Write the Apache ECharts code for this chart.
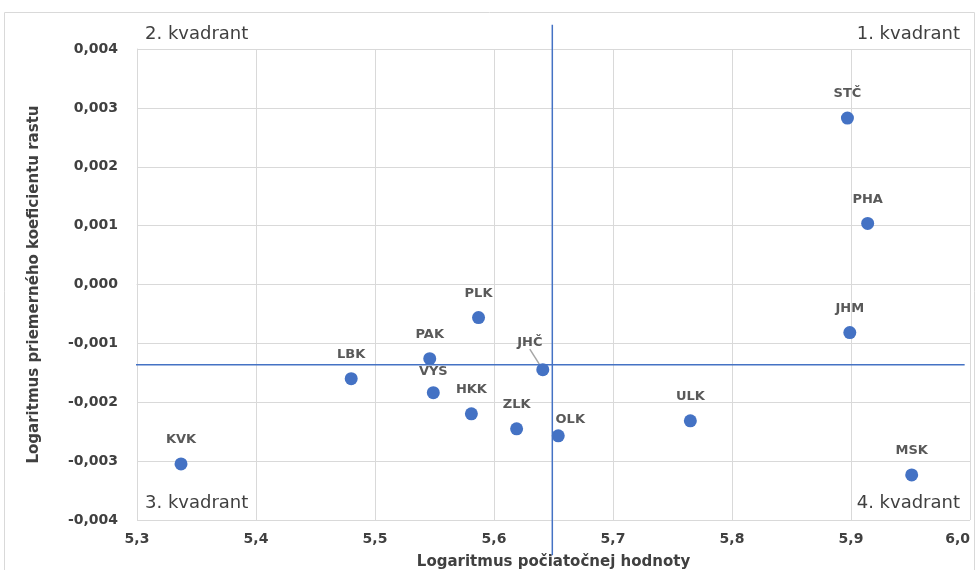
<!DOCTYPE html>
<html>
<head>
<meta charset="utf-8">
<script src="https://cdn.jsdelivr.net/npm/echarts@6/dist/echarts.min.js"></script>
<style>html,body{margin:0;padding:0;background:#fff}#c{width:977px;height:570px}</style>
</head>
<body>
<div id="c"></div>
<script>
const regions = ['STČ','PHA','JHM','MSK','ULK','OLK','ZLK','JHČ','PLK','PAK','VYS','HKK','LBK','KVK'];
const xValues = [5.897, 5.914, 5.899, 5.951, 5.765, 5.654, 5.619, 5.641, 5.587, 5.546, 5.549, 5.581, 5.480, 5.337];
const yValues = [0.002826, 0.001038, -0.000817, -0.003234, -0.002315, -0.00257, -0.002451, -0.001447, -0.000562, -0.00126, -0.001838, -0.002196, -0.0016, -0.003047];
const meanX = 5.649;
const meanY = -0.001362;
const xLineExtent = [5.258, 5.9955];
const yLineExtent = [0.00441, -0.0046];
const quadrantNames = ['1. kvadrant','2. kvadrant','3. kvadrant','4. kvadrant'];
const xAxisName = 'Logaritmus počiatočnej hodnoty';
const yAxisName = 'Logaritmus priemerného koeficientu rastu';

const FONT = 'DejaVu Sans';
const blue = '#4472C4';
const labelColor = '#595959';
const axisColor = '#404040';

const labelTweaks = { 'JHČ': {dx: -13, dy: -3, line: true}, 'OLK': {dx: 12, dy: 8}, 'VYS': {dx: 0, dy: 3} };

const points = regions.map((r, i) => ({
  name: r,
  value: [xValues[i], yValues[i]],
  labelLine: { show: !!(labelTweaks[r] && labelTweaks[r].line) }
}));

const chart = echarts.init(document.getElementById('c'), null, {renderer: 'canvas'});
chart.setOption({
  animation: false,
  textStyle: { fontFamily: FONT },
  grid: { left: 137, right: 7, top: 49, bottom: 50, containLabel: false, outerBoundsMode: 'none' },
  xAxis: {
    type: 'value', min: 5.3, max: 6.0, interval: 0.1,
    name: xAxisName, nameLocation: 'middle', nameGap: 35,
    nameTextStyle: { fontFamily: FONT, fontWeight: 'bold', fontSize: 15, color: axisColor },
    axisLine: { show: true, lineStyle: { color: '#d9d9d9' } },
    axisTick: { show: false },
    axisLabel: { fontFamily: FONT, fontWeight: 'bold', fontSize: 14, color: axisColor, margin: 12,
      alignMaxLabel: 'right',
      formatter: v => v.toFixed(1).replace('.', ',') },
    splitLine: { show: true, lineStyle: { color: '#d9d9d9', width: 1 } }
  },
  yAxis: {
    type: 'value', min: -0.004, max: 0.004, interval: 0.001,
    name: yAxisName, nameLocation: 'middle', nameGap: 95, nameRotate: 90,
    nameTextStyle: { fontFamily: FONT, fontWeight: 'bold', fontSize: 15, color: axisColor },
    axisLine: { show: true, lineStyle: { color: '#d9d9d9' } },
    axisTick: { show: false },
    axisLabel: { fontFamily: FONT, fontWeight: 'bold', fontSize: 14, color: axisColor, margin: 19,
      formatter: v => (Math.abs(v) < 1e-9 ? 0 : v).toFixed(3).replace('.', ',') },
    splitLine: { show: true, lineStyle: { color: '#d9d9d9', width: 1 } }
  },
  series: [
    {
      type: 'line', data: [[meanX, yLineExtent[0]], [meanX, yLineExtent[1]]],
      clip: false, symbol: 'none', silent: true,
      lineStyle: { color: blue, width: 1.5 }, z: 3
    },
    {
      type: 'line', data: [[xLineExtent[0], meanY], [xLineExtent[1], meanY]],
      clip: false, symbol: 'none', silent: true,
      lineStyle: { color: blue, width: 1.5 }, z: 3
    },
    {
      type: 'scatter', data: points, symbolSize: 13, z: 5,
      itemStyle: { color: blue, opacity: 1 },
      label: {
        show: true, position: 'top', distance: 11, opacity: 1,
        formatter: p => p.name,
        fontFamily: FONT, fontWeight: 'bold', fontSize: 13, color: labelColor
      },
      labelLine: { show: false, lineStyle: { color: '#a6a6a6', width: 1.5 } },
      labelLayout: function (params) {
        const name = regions[params.dataIndex];
        const t = labelTweaks[name];
        if (!t) return {};
        return { dx: t.dx, dy: t.dy };
      }
    }
  ],
  graphic: [
    { type: 'rect', shape: { x: 4.5, y: 12.5, width: 970, height: 570 }, style: { fill: 'none', stroke: '#d9d9d9', lineWidth: 1 }, silent: true },
    { type: 'text', left: 145, top: 25, style: { text: quadrantNames[1], font: '18px ' + FONT, fill: axisColor } },
    { type: 'text', right: 17, top: 25, style: { text: quadrantNames[0], font: '18px ' + FONT, fill: axisColor } },
    { type: 'text', left: 145, top: 494, style: { text: quadrantNames[2], font: '18px ' + FONT, fill: axisColor } },
    { type: 'text', right: 17, top: 494, style: { text: quadrantNames[3], font: '18px ' + FONT, fill: axisColor } }
  ]
});
</script>
</body>
</html>
